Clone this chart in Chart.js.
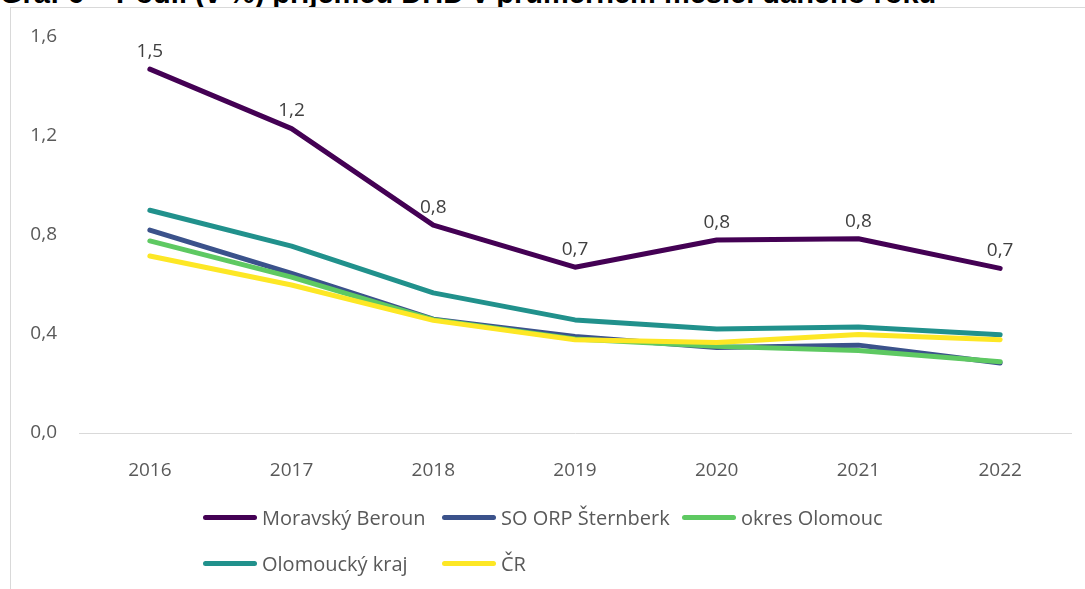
<!DOCTYPE html>
<html>
<head>
<meta charset="utf-8">
<script src="https://cdn.jsdelivr.net/npm/chart.js@4"></script>
<style>
    body { margin: 0; background: #fff; width: 1085px; height: 589px; overflow: hidden; position: relative; font-family: "Open Sans", sans-serif; }
    #title { position: absolute; left: 0; top: -23px; font: bold 29px "Liberation Sans", Arial, sans-serif; color: #000; white-space: nowrap; }
    #frame { position: absolute; left: 10px; top: 7px; width: 1200px; height: 700px; border: 1px solid #d9d9d9; background: #fff; }
    #chart { position: absolute; left: 0; top: 0; }
    .leg { position: absolute; display: flex; align-items: center; font-size: 20px; color: #595959; white-space: nowrap; }
    .leg span.ln { display: inline-block; width: 54px; height: 5px; border-radius: 3px; margin-right: 5px; }
</style>
</head>
<body>
<div id="title">Graf 6 – Podíl (v %) příjemců DHD v průměrném měsíci daného roku</div>
<div id="frame"></div>
<canvas id="chart" width="1085" height="589"></canvas>
<div id="legend"></div>
<script>
// Data
const years = ['2016', '2017', '2018', '2019', '2020', '2021', '2022'];
const moravskyBeroun = [1.47, 1.23, 0.84, 0.67, 0.78, 0.785, 0.665];
const soOrpSternberk = [0.82, 0.645, 0.46, 0.39, 0.345, 0.355, 0.283];
const okresOlomouc = [0.776, 0.63, 0.458, 0.38, 0.35, 0.333, 0.288];
const olomouckyKraj = [0.90, 0.755, 0.566, 0.457, 0.42, 0.428, 0.397];
const cr = [0.715, 0.598, 0.455, 0.377, 0.366, 0.398, 0.377];
const yTicks = [0, 0.4, 0.8, 1.2, 1.6];

const seriesNames = ['Moravský Beroun', 'SO ORP Šternberk', 'okres Olomouc', 'Olomoucký kraj', 'ČR'];
const seriesColors = ['#440154', '#3b528b', '#5ec962', '#21918c', '#fde725'];
const seriesData = [moravskyBeroun, soOrpSternberk, okresOlomouc, olomouckyKraj, cr];

const fmt = v => v.toFixed(1).replace('.', ',');

// Data labels for the first series
const labelPlugin = {
    id: 'labels',
    afterDatasetsDraw(chart) {
        const ctx = chart.ctx;
        const meta = chart.getDatasetMeta(0);
        ctx.save();
        ctx.font = '19px "Open Sans"';
        ctx.fillStyle = '#404040';
        ctx.textAlign = 'center';
        ctx.textBaseline = 'bottom';
        meta.data.forEach((pt, i) => {
            ctx.fillText(fmt(moravskyBeroun[i]), pt.x, pt.y - 8);
        });
        ctx.restore();
    }
};

// Draw order: back to front so Moravský Beroun is on top
const order = [4, 2, 1, 3, 0];

new Chart(document.getElementById('chart'), {
    type: 'line',
    data: {
        labels: years,
        datasets: seriesNames.map((name, i) => ({
            label: name,
            data: seriesData[i],
            borderColor: seriesColors[i],
            backgroundColor: seriesColors[i],
            borderWidth: 5,
            pointRadius: 0,
            borderCapStyle: 'round',
            borderJoinStyle: 'round',
            tension: 0,
            order: order[i]
        }))
    },
    options: {
        responsive: false,
        animation: false,
        layout: { padding: { left: 0, right: 14, top: 37, bottom: 0 } },
        plugins: {
            legend: { display: false },
            tooltip: { enabled: false }
        },
        scales: {
            x: {
                offset: true,
                grid: { display: false },
                border: { display: true, color: '#d9d9d9', width: 1 },
                ticks: { color: '#595959', font: { family: 'Open Sans', size: 19 }, padding: 18, maxRotation: 0 },
                afterFit: scale => { scale.height = 156; }
            },
            y: {
                min: 0,
                max: 1.6,
                afterBuildTicks: scale => { scale.ticks = yTicks.map(v => ({ value: v })); },
                grid: { display: false, drawTicks: false },
                border: { display: false },
                ticks: {
                    color: '#595959',
                    font: { family: 'Open Sans', size: 19 },
                    padding: 22,
                    callback: v => fmt(v)
                },
                afterFit: scale => { scale.width = 79; }
            }
        }
    },
    plugins: [labelPlugin]
});

// HTML legend
const legendPos = [[203, 517], [442, 517], [682, 517], [203, 563], [442, 563]];
const legend = document.getElementById('legend');
seriesNames.forEach((name, i) => {
    const item = document.createElement('div');
    item.className = 'leg';
    item.style.left = legendPos[i][0] + 'px';
    item.style.top = (legendPos[i][1] - 14) + 'px';
    item.style.height = '28px';
    item.innerHTML = `<span class="ln" style="background:${seriesColors[i]}"></span>${name}`;
    legend.appendChild(item);
});
</script>
</body>
</html>
